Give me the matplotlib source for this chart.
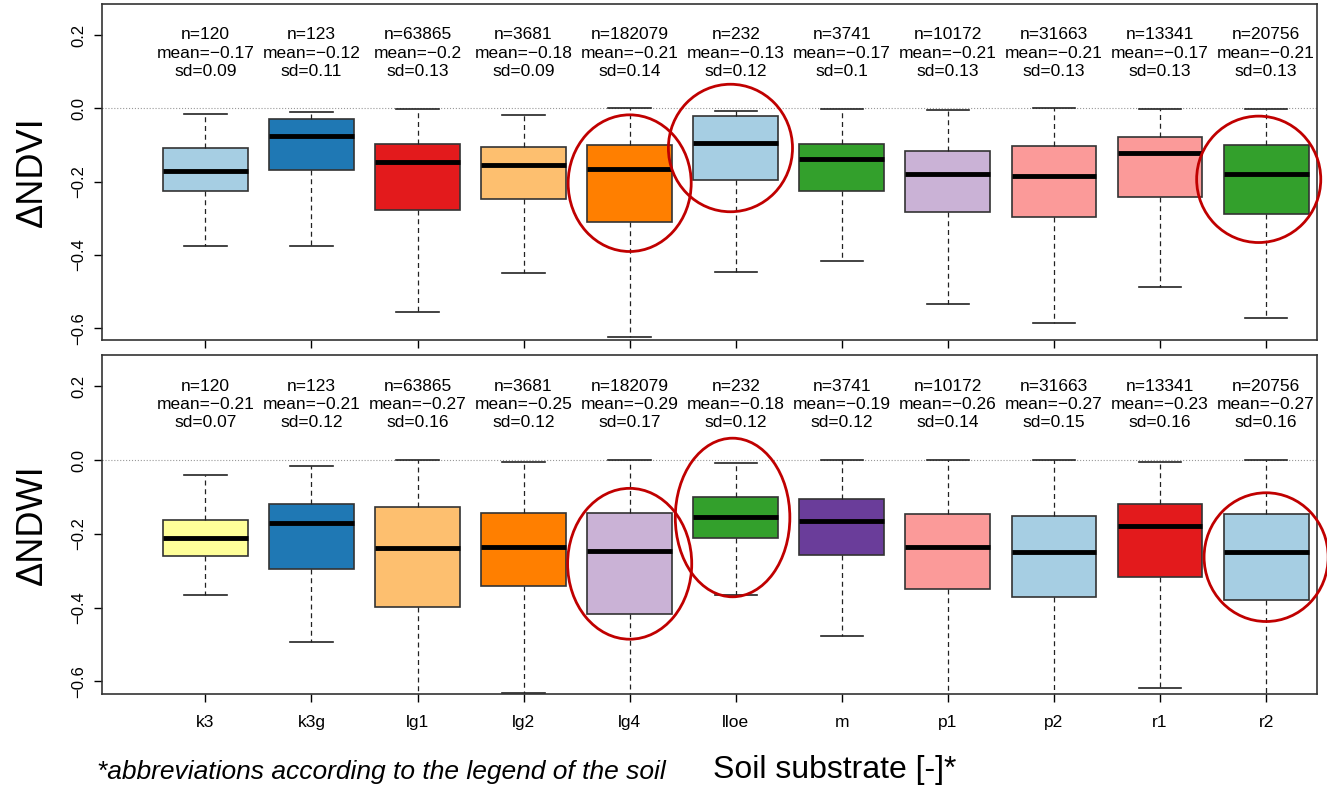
import matplotlib
matplotlib.use("Agg")
import matplotlib.pyplot as plt
from matplotlib.patches import Ellipse

plt.rcParams['font.family'] = ['Liberation Sans', 'DejaVu Sans']

# categories
soils = ['k3', 'k3g', 'lg1', 'lg2', 'lg4', 'lloe', 'm', 'p1', 'p2', 'r1', 'r2']

# dNDVI box statistics
ndvi_lo  = [-0.375, -0.375, -0.555, -0.450, -0.625, -0.447, -0.416, -0.533, -0.587, -0.488, -0.573]
ndvi_q1  = [-0.226, -0.169, -0.278, -0.247, -0.309, -0.195, -0.224, -0.283, -0.296, -0.242, -0.288]
ndvi_med = [-0.170, -0.076, -0.147, -0.154, -0.165, -0.093, -0.137, -0.180, -0.185, -0.121, -0.178]
ndvi_q3  = [-0.109, -0.030, -0.096, -0.106, -0.099, -0.021, -0.096, -0.115, -0.102, -0.077, -0.099]
ndvi_hi  = [-0.014, -0.010, -0.002, -0.018, 0.000, -0.007, -0.001, -0.005, 0.000, -0.002, -0.002]
ndvi_n    = [120, 123, 63865, 3681, 182079, 232, 3741, 10172, 31663, 13341, 20756]
ndvi_mean = ['-0.17', '-0.12', '-0.2', '-0.18', '-0.21', '-0.13', '-0.17', '-0.21', '-0.21', '-0.17', '-0.21']
ndvi_sd   = ['0.09', '0.11', '0.13', '0.09', '0.14', '0.12', '0.1', '0.13', '0.13', '0.13', '0.13']
ndvi_col = ['#A6CEE3', '#1F78B4', '#E31A1C', '#FDBF6F', '#FF7F00', '#A6CEE3',
            '#33A02C', '#CAB2D6', '#FB9A99', '#FB9A99', '#33A02C']

# dNDWI box statistics
ndwi_lo  = [-0.366, -0.494, -0.700, -0.632, -0.700, -0.366, -0.477, -0.700, -0.700, -0.619, -0.700]
ndwi_q1  = [-0.259, -0.295, -0.399, -0.340, -0.418, -0.212, -0.256, -0.350, -0.370, -0.316, -0.380]
ndwi_med = [-0.210, -0.171, -0.237, -0.235, -0.247, -0.154, -0.164, -0.235, -0.248, -0.179, -0.250]
ndwi_q3  = [-0.162, -0.118, -0.128, -0.144, -0.144, -0.099, -0.105, -0.146, -0.152, -0.118, -0.146]
ndwi_hi  = [-0.040, -0.016, 0.000, -0.006, 0.000, -0.008, 0.000, 0.000, 0.000, -0.005, 0.000]
ndwi_n    = ndvi_n
ndwi_mean = ['-0.21', '-0.21', '-0.27', '-0.25', '-0.29', '-0.18', '-0.19', '-0.26', '-0.27', '-0.23', '-0.27']
ndwi_sd   = ['0.07', '0.12', '0.16', '0.12', '0.17', '0.12', '0.12', '0.14', '0.15', '0.16', '0.16']
ndwi_col = ['#FFFF99', '#1F78B4', '#FDBF6F', '#FF7F00', '#CAB2D6', '#33A02C',
            '#6A3D9A', '#FB9A99', '#A6CEE3', '#E31A1C', '#A6CEE3']

# highlighted categories (red ellipses): (category, x shift, width, height)
ndvi_marks = [('lg4', 0.0, 1.16, 0.373), ('lloe', -0.05, 1.17, 0.348), ('r2', -0.07, 1.17, 0.345)]
ndwi_marks = [('lg4', 0.0, 1.17, 0.409), ('lloe', -0.03, 1.08, 0.43), ('r2', 0.0, 1.17, 0.349)]

fig = plt.figure(figsize=(13.27, 7.87), dpi=100)
ax1 = fig.add_axes([0.0769, 0.5680, 0.9156, 0.4269])
ax2 = fig.add_axes([0.0769, 0.1182, 0.9156, 0.4307])


def panel(ax, lo, q1, med, q3, hi, ns, means, sds, cols, marks, ylab, ylim):
    pos = list(range(1, len(soils) + 1))
    stats = [dict(whislo=lo[i], q1=q1[i], med=med[i], q3=q3[i], whishi=hi[i], fliers=[])
             for i in range(len(soils))]
    ax.axhline(0, color='#999999', lw=0.8, ls=':', zorder=0)
    bp = ax.bxp(stats, positions=pos, widths=0.8, capwidths=0.4, patch_artist=True,
                showfliers=False,
                boxprops=dict(edgecolor='#333333', linewidth=1.2),
                whiskerprops=dict(color='#222222', linestyle=(0, (4, 3)), linewidth=0.9),
                capprops=dict(color='#222222', linewidth=1.2),
                medianprops=dict(color='black', linewidth=3.5, solid_capstyle='butt'))
    for patch, c in zip(bp['boxes'], cols):
        patch.set_facecolor(c)
    for i, p in enumerate(pos):
        for yf, s in [(0.908, 'n=%d' % ns[i]), (0.853, 'mean=' + means[i].replace('-', '\u2212')),
                      (0.800, 'sd=' + sds[i])]:
            ax.text(p, yf, s, transform=ax.get_xaxis_transform(), ha='center', va='center',
                    fontsize=12.5, clip_on=True)
    for name, dx, w, h in marks:
        i = soils.index(name)
        ax.add_patch(Ellipse((pos[i] + dx, (q1[i] + q3[i]) / 2), w, h, fill=False,
                             edgecolor='#C00000', lw=2, clip_on=False, zorder=5))
    ax.set_xlim(0.026, 11.48)
    ax.set_ylim(*ylim)
    ax.set_yticks([0.2, 0.0, -0.2, -0.4, -0.6])
    ax.set_yticklabels(['0.2', '0.0', '\u22120.2', '\u22120.4', '\u22120.6'],
                       rotation=90, va='center', fontsize=12)
    ax.set_xticks(pos)
    ax.tick_params(direction='out', length=6, width=1, pad=5.5)
    ax.text(-0.0575, 0.5, ylab, transform=ax.transAxes, rotation=90, fontsize=26,
            ha='center', va='center')
    for sp in ax.spines.values():
        sp.set_color('#333333')
        sp.set_linewidth(1.2)


panel(ax1, ndvi_lo, ndvi_q1, ndvi_med, ndvi_q3, ndvi_hi, ndvi_n, ndvi_mean, ndvi_sd,
      ndvi_col, ndvi_marks, '\u0394NDVI', (-0.632, 0.285))
panel(ax2, ndwi_lo, ndwi_q1, ndwi_med, ndwi_q3, ndwi_hi, ndwi_n, ndwi_mean, ndwi_sd,
      ndwi_col, ndwi_marks, '\u0394NDWI', (-0.634, 0.285))
ax1.set_xticklabels([])
ax2.set_xticklabels(soils, fontsize=12.5)
ax2.tick_params(axis='x', pad=9)

fig.text(0.073, 0.019, '*abbreviations according to the legend of the soil',
         fontsize=19, style='italic', ha='left', va='center')
fig.text(0.537, 0.021, 'Soil substrate [-]*', fontsize=23, ha='left', va='center')

fig.savefig('out.png', dpi=100)
